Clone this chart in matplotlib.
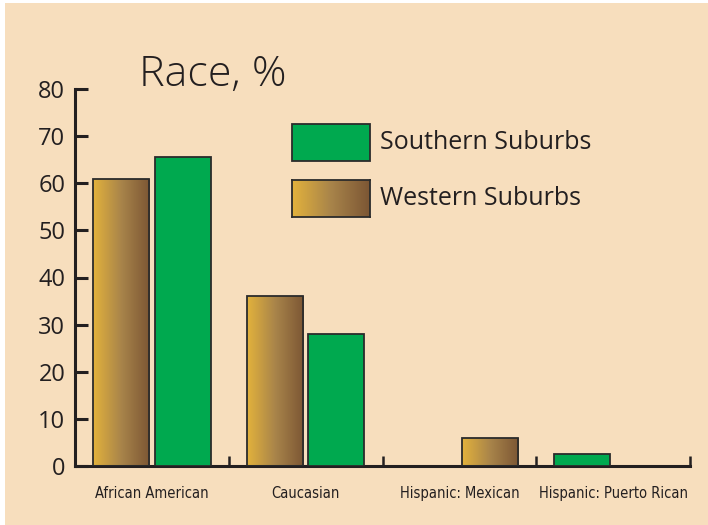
import matplotlib
matplotlib.use("Agg")
import matplotlib.pyplot as plt
import numpy as np
from matplotlib.patches import Rectangle
from matplotlib.colors import LinearSegmentedColormap

# values (percent)
categories = ["African American", "Caucasian", "Hispanic: Mexican", "Hispanic: Puerto Rican"]
western = [61, 36, 6, 0]
southern = [65.5, 28, 0, 2.5]
# the source chart places the bars like this inside each group
western_pos = [-0.2, -0.2, 0.2, 0.2]
southern_pos = [0.2, 0.2, -0.2, -0.2]

bg = "#F7DEBD"
green = "#00A94F"
edge = "#2b2b2b"
ink = "#231f20"
gold_brown = LinearSegmentedColormap.from_list("gb", ["#E3B23C", "#A8844A", "#7C5634"])
grad = np.linspace(0, 1, 256).reshape(1, -1)

W, H = 708, 525
fig = plt.figure(figsize=(W / 100, H / 100), dpi=100, facecolor="white")
fig.add_artist(Rectangle((5 / W, -0.02), 1.05, 1.02 - 3 / H, transform=fig.transFigure,
                         facecolor=bg, edgecolor="none", zorder=-10))

ax = fig.add_axes([75 / W, 1 - 466 / H, (690 - 75) / W, (466 - 89) / H])
ax.set_facecolor("none")
width = 0.365
x = np.arange(len(categories))


def gradient_bars(xs, hs):
    bars = ax.bar(xs, hs, width, facecolor="none", edgecolor=edge, linewidth=1.3, zorder=3)
    for b, h in zip(bars, hs):
        if h <= 0:
            b.set_visible(False)
            continue
        im = ax.imshow(grad, cmap=gold_brown, aspect="auto", zorder=2,
                       extent=(b.get_x(), b.get_x() + b.get_width(), 0, h))
        im.set_clip_path(b)
    return bars


gradient_bars(x + np.array(western_pos), western)
sb = ax.bar(x + np.array(southern_pos), southern, width, color=green, edgecolor=edge,
            linewidth=1.3, zorder=3)
for b, h in zip(sb, southern):
    if h <= 0:
        b.set_visible(False)

ax.set_xlim(-0.5, 3.5)
ax.set_ylim(0, 80)
for s in ["top", "right"]:
    ax.spines[s].set_visible(False)
for s in ["left", "bottom"]:
    ax.spines[s].set_linewidth(2.2)
    ax.spines[s].set_color(ink)

ax.set_yticks(range(0, 81, 10))
ax.tick_params(axis="y", direction="in", length=9, width=2.2, labelsize=17,
               color=ink, labelcolor=ink, pad=7)
ax.set_xticks([0.5, 1.5, 2.5, 3.5])
ax.set_xticklabels([])
ax.tick_params(axis="x", direction="in", length=7, width=1.8, color=ink)
for xi, c in zip(x, categories):
    ax.text(xi, -4.3, c, ha="center", va="top", fontsize=10.5, color=ink,
            family=["DejaVu Sans"], fontstretch="condensed")

for lab in ax.get_yticklabels():
    lab.set_family(["Open Sans", "DejaVu Sans"])

fig.text(139 / W, 1 - 75 / H, "Race, %", fontsize=31, color=ink, fontweight="light",
         family=["Open Sans", "DejaVu Sans"], va="center", ha="left")

# legend boxes drawn by hand
leg = [("Southern Suburbs", 124, None), ("Western Suburbs", 180, "grad")]
for label, ytop, kind in leg:
    x0, x1 = 292 / W, 370 / W
    y0, y1 = 1 - (ytop + 37) / H, 1 - ytop / H
    if kind is None:
        fig.add_artist(Rectangle((x0, y0), x1 - x0, y1 - y0, transform=fig.transFigure,
                                 facecolor=green, edgecolor=edge, linewidth=1.3))
    else:
        lax = fig.add_axes([x0, y0, x1 - x0, y1 - y0])
        lax.imshow(grad, cmap=gold_brown, aspect="auto")
        lax.set_xticks([])
        lax.set_yticks([])
        for s in lax.spines.values():
            s.set_color(edge)
            s.set_linewidth(1.3)
    fig.text(380 / W, (y0 + y1) / 2, label, fontsize=18, color=ink,
             family=["Open Sans", "DejaVu Sans"], va="center", ha="left")

fig.savefig("out.png", dpi=100, facecolor=fig.get_facecolor())
